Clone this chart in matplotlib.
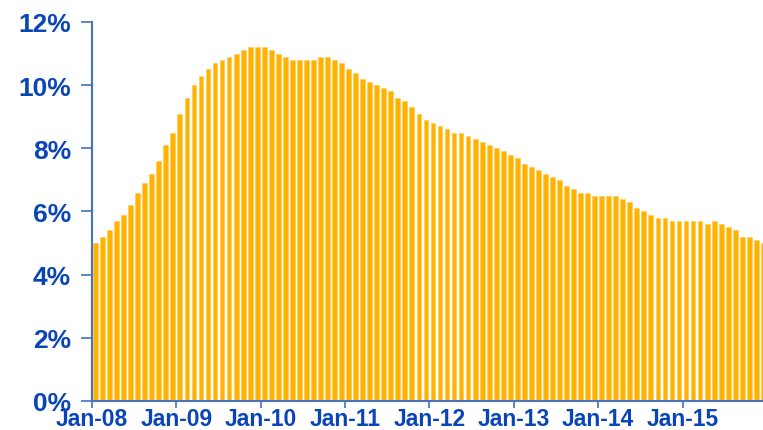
import matplotlib.pyplot as plt
import numpy as np

# monthly rate, Jan-2008 .. Dec-2015
rate = [5.0, 5.2, 5.4, 5.7, 5.9, 6.2, 6.6, 6.9, 7.2, 7.6, 8.1, 8.5,
        9.1, 9.6, 10.0, 10.3, 10.5, 10.7, 10.8, 10.9, 11.0, 11.1, 11.2, 11.2,
        11.2, 11.1, 11.0, 10.9, 10.8, 10.8, 10.8, 10.8, 10.9, 10.9, 10.8, 10.7,
        10.5, 10.4, 10.2, 10.1, 10.0, 9.9, 9.8, 9.6, 9.5, 9.3, 9.1, 8.9,
        8.8, 8.7, 8.6, 8.5, 8.5, 8.4, 8.3, 8.2, 8.1, 8.0, 7.9, 7.8,
        7.7, 7.5, 7.4, 7.3, 7.2, 7.1, 7.0, 6.8, 6.7, 6.6, 6.6, 6.5,
        6.5, 6.5, 6.5, 6.4, 6.3, 6.1, 6.0, 5.9, 5.8, 5.8, 5.7, 5.7,
        5.7, 5.7, 5.7, 5.6, 5.7, 5.6, 5.5, 5.4, 5.2, 5.2, 5.1, 5.0]
year_labels = ['Jan-08', 'Jan-09', 'Jan-10', 'Jan-11', 'Jan-12', 'Jan-13', 'Jan-14', 'Jan-15']
y_ticks = [0, 2, 4, 6, 8, 10, 12]

spine_col = '#4472C4'
text_col = '#0A45B8'

plt.rcParams['font.family'] = ['Liberation Sans', 'DejaVu Sans']

fig = plt.figure(figsize=(7.63, 4.31), dpi=100)
ax = fig.add_axes([0.1206, 0.0673, 0.8794, 0.8794])

x = np.arange(len(rate))
ax.bar(x, rate, width=0.68, color='#FFB300', edgecolor='#FFC94D', linewidth=0.4)

ax.set_xlim(-0.5, 94.95)
ax.set_ylim(0, 12)

ax.set_yticks(y_ticks)
ax.set_yticklabels([f'{v}%' for v in y_ticks], fontsize=19, fontweight='bold', color=text_col)
ax.set_xticks([-0.5 + 12 * k for k in range(len(year_labels))])
ax.set_xticklabels(year_labels, fontsize=16.5, fontweight='bold', color=text_col)

ax.tick_params(axis='y', length=8, width=1.2, color=spine_col, pad=7)
ax.tick_params(axis='x', length=5, width=1.2, color=spine_col, pad=-1)

for s in ['top', 'right']:
    ax.spines[s].set_visible(False)
for s in ['left', 'bottom']:
    ax.spines[s].set_color(spine_col)
    ax.spines[s].set_linewidth(1.5)

fig.savefig('out.png', dpi=100)
